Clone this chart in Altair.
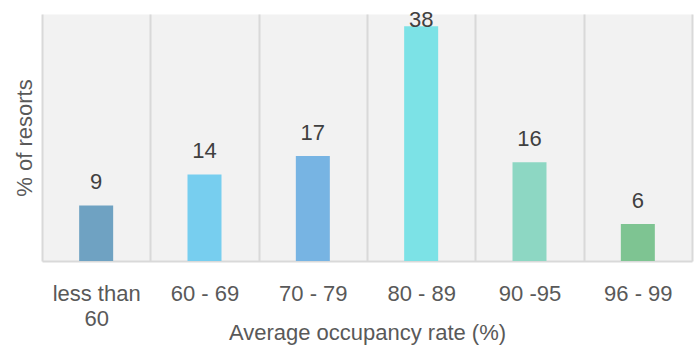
import altair as alt
import pandas as pd

# Share of resorts by average occupancy band
categories = ["less than 60", "60 - 69", "70 - 79", "80 - 89", "90 -95", "96 - 99"]
shares = [9, 14, 17, 38, 16, 6]
bar_colors = ["#6FA2C2", "#77CEEF", "#77B4E3", "#7CE2E6", "#8DD7C3", "#7EC492"]

df = pd.DataFrame({"band": categories, "share": shares})

FONT = "Liberation Sans"

x_enc = alt.X(
    "band:N",
    sort=categories,
    scale=alt.Scale(paddingInner=0, paddingOuter=0),
    axis=alt.Axis(
        title="Average occupancy rate (%)",
        titleFont=FONT,
        titleFontSize=22,
        titleFontWeight="normal",
        titleColor="#595959",
        titleBaseline="alphabetic",
        titleY=78,
        labelFont=FONT,
        labelFontSize=22,
        labelColor="#595959",
        labelAngle=0,
        labelBaseline="top",
        labelPadding=22,
        labelLineHeight=25,
        labelExpr="datum.value == 'less than 60' ? ['less than', '60'] : datum.value",
        ticks=False,
        tickBand="extent",
        grid=True,
        gridColor="#D9D9D9",
        gridWidth=2,
        domainColor="#D9D9D9",
        domainWidth=2,
    ),
)

y_scale = alt.Scale(domain=[0, 40], nice=False)
y_axis = alt.Axis(
    title="% of resorts",
    titleFont=FONT,
    titleFontSize=22,
    titleFontWeight="normal",
    titleColor="#595959",
    titlePadding=6,
    labels=False,
    ticks=False,
    domain=False,
    grid=False,
)

bars = alt.Chart(df).mark_bar().encode(
    x=x_enc,
    y=alt.Y("share:Q", scale=y_scale, axis=y_axis, title="% of resorts"),
    color=alt.Color("band:N", sort=categories,
                    scale=alt.Scale(domain=categories, range=bar_colors),
                    legend=None),
    size=alt.value(34),
)

labels = alt.Chart(df).transform_calculate(
    label_y="min(datum.share + 2.6, 37.9)"
).mark_text(
    font=FONT, fontSize=22, color="#404040", baseline="alphabetic", align="center"
).encode(
    x=alt.X("band:N", sort=categories),
    y=alt.Y("label_y:Q", scale=y_scale, axis=y_axis, title="% of resorts"),
    text=alt.Text("share:Q"),
)

chart = (
    alt.layer(bars, labels)
    .properties(
        width=650,
        height=247,
        autosize=alt.AutoSizeParams(type="none"),
        padding={"left": 42, "top": 14, "right": 5, "bottom": 84},
        background="white",
    )
    .configure_view(fill="#F2F2F2", stroke="transparent")
)

chart.save("out.html", embed_options={"renderer": "svg", "actions": False})
